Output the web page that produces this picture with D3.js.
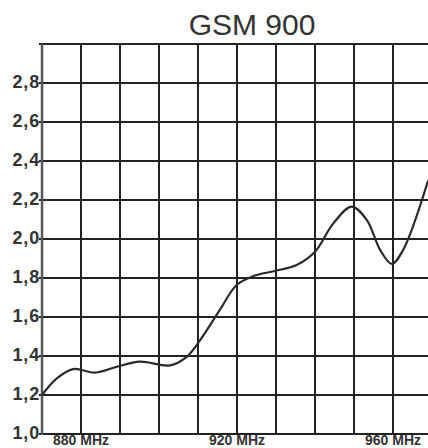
<!DOCTYPE html>
<html><head><meta charset="utf-8">
<script src="https://cdn.jsdelivr.net/npm/d3@7"></script>
<style>body{margin:0;background:#fff}svg{display:block}</style>
</head><body>
<script>
const title = "GSM 900";
const freqs = [870, 873.8, 878, 883.6, 889.2, 895.1, 902.8, 907.1, 910.5, 915.6, 919.9, 924.2, 929.7, 935.3, 940, 944.7, 949.4, 953.3, 956.7, 959.7, 962.6, 969];
const vswr  = [1.20, 1.285, 1.333, 1.315, 1.345, 1.371, 1.352, 1.396, 1.48, 1.636, 1.764, 1.81, 1.836, 1.867, 1.935, 2.08, 2.166, 2.097, 1.944, 1.872, 1.944, 2.30];
const yTicks = [1.0, 1.2, 1.4, 1.6, 1.8, 2.0, 2.2, 2.4, 2.6, 2.8, 3.0];
const yTickLabels = ["1,0","1,2","1,4","1,6","1,8","2,0","2,2","2,4","2,6","2,8",""];
const xGrid = [880, 890, 900, 910, 920, 930, 940, 950, 960, 970];
const xTicks = [880, 920, 960];
const xTickLabels = ["880 MHz", "920 MHz", "960 MHz"];

const W = 428, H = 448;
const svg = d3.select("body").append("svg").attr("width", W).attr("height", H);
const x = d3.scaleLinear().domain([870, 970]).range([42, 432]);
const y = d3.scaleLinear().domain([1, 3]).range([434, 44]);

svg.append("text").attr("x", 252).attr("y", 35).attr("text-anchor", "middle")
  .attr("font-family", "Liberation Sans, Arial, sans-serif").attr("font-size", 30)
  .attr("fill", "#333").text(title);

const g = svg.append("g");
g.selectAll("line.h").data(yTicks).join("line").attr("class","h")
  .attr("x1", x(870) - 3).attr("x2", W).attr("y1", d => y(d)).attr("y2", d => y(d))
  .attr("stroke", "#222").attr("stroke-width", 2);
g.selectAll("line.v").data(xGrid).join("line").attr("class","v")
  .attr("x1", d => x(d)).attr("x2", d => x(d)).attr("y1", y(3)).attr("y2", y(1))
  .attr("stroke", "#222").attr("stroke-width", 2);
g.append("line").attr("x1", x(870)).attr("x2", x(870)).attr("y1", y(3)).attr("y2", y(1) + 1)
  .attr("stroke", "#555").attr("stroke-width", 2.5);

svg.selectAll("text.yl").data(yTicks).join("text").attr("class","yl")
  .attr("x", 40).attr("y", d => y(d) + 5).attr("text-anchor", "end")
  .attr("font-family", "Liberation Sans, Arial, sans-serif").attr("font-size", 18).attr("font-weight", "bold")
  .attr("letter-spacing", 0.8)
  .attr("fill", "#333").text((d, i) => yTickLabels[i]);

svg.selectAll("text.xl").data(xTicks).join("text").attr("class","xl")
  .attr("x", d => x(d)).attr("y", 445).attr("text-anchor", "middle")
  .attr("font-family", "Liberation Sans, Arial, sans-serif").attr("font-size", 14).attr("font-weight", "bold")
  .attr("fill", "#333").text((d, i) => xTickLabels[i]);

const pts = freqs.map((f, i) => [f, vswr[i]]);
svg.append("path").datum(pts)
  .attr("d", d3.line().x(d => x(d[0])).y(d => y(d[1])).curve(d3.curveCatmullRom.alpha(0.5)))
  .attr("fill", "none").attr("stroke", "#2a2a2a").attr("stroke-width", 2.2);
</script>
</body></html>
